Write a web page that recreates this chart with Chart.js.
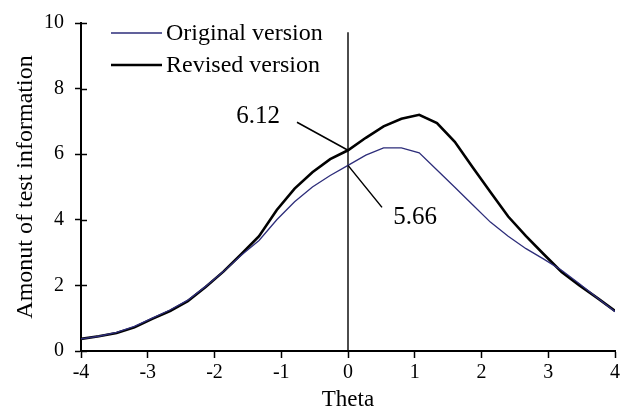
<!DOCTYPE html>
<html>
<head>
<meta charset="utf-8">
<title>Test information</title>
<script src="https://cdn.jsdelivr.net/npm/chart.js@4/dist/chart.umd.min.js"></script>
<style>
  body { margin: 0; background: #fff; }
  canvas { display: block; }
</style>
</head>
<body>
<canvas id="myChart" width="623" height="414"></canvas>
<script>
// Datos de la grafica
var thetas = [-4.000, -3.733, -3.467, -3.200, -2.933, -2.667, -2.400, -2.133, -1.867, -1.600, -1.333,
              -1.067, -0.800, -0.533, -0.267, 0.000, 0.267, 0.533, 0.800, 1.067, 1.333,
              1.600, 1.867, 2.133, 2.400, 2.667, 2.933, 3.200, 3.467, 3.733, 4.000];
var originalVals = [0.37, 0.45, 0.57, 0.75, 1.00, 1.25, 1.55, 1.97, 2.42, 2.92, 3.37,
                    4.00, 4.55, 5.00, 5.35, 5.66, 5.97, 6.19, 6.19, 6.04, 5.52,
                    4.99, 4.46, 3.93, 3.50, 3.12, 2.80, 2.46, 2.05, 1.62, 1.20];
var revisedVals = [0.37, 0.45, 0.55, 0.72, 0.98, 1.22, 1.52, 1.95, 2.42, 2.95, 3.50,
                   4.30, 4.95, 5.45, 5.85, 6.12, 6.50, 6.85, 7.08, 7.20, 6.95,
                   6.38, 5.60, 4.85, 4.10, 3.50, 2.95, 2.41, 2.00, 1.62, 1.22];
var seriesNames = ["Original version", "Revised version"];
var markerLine = [0, 9.72]; // linea vertical en theta = 0
var xTicks = [-4, -3, -2, -1, 0, 1, 2, 3, 4];
var yTicks = [0, 2, 4, 6, 8, 10];

var serif = "'Liberation Serif', 'DejaVu Serif', serif";
var navy = "#2d2d7a";

function toPoints(xs, ys) {
    return xs.map(function (x, i) { return { x: x, y: ys[i] }; });
}

// Marcas interiores del eje y (cruzan el eje)
var innerTicks = {
    id: "innerTicks",
    afterDraw: function (chart) {
        var ctx = chart.ctx, ys = chart.scales.y, left = chart.chartArea.left;
        ctx.save();
        ctx.strokeStyle = "#000";
        ctx.lineWidth = 1.5;
        yTicks.forEach(function (v) {
            var py = Math.round(ys.getPixelForValue(v)) + 0.5;
            ctx.beginPath();
            ctx.moveTo(left, py);
            ctx.lineTo(left + 6, py);
            ctx.stroke();
        });
        ctx.restore();
    }
};

// Leyenda dentro del area de la grafica
var innerLegend = {
    id: "innerLegend",
    afterDraw: function (chart) {
        var ctx = chart.ctx, a = chart.chartArea;
        ctx.save();
        ctx.font = "24px " + serif;
        ctx.textBaseline = "middle";
        ctx.fillStyle = "#000";
        [0, 1].forEach(function (i) {
            var ds = chart.data.datasets[i];
            var py = a.top + 10 + i * 32;
            ctx.strokeStyle = ds.borderColor;
            ctx.lineWidth = ds.borderWidth;
            ctx.beginPath();
            ctx.moveTo(a.left + 30, py);
            ctx.lineTo(a.left + 81, py);
            ctx.stroke();
            ctx.fillText(seriesNames[i], a.left + 85, py + 1);
        });
        ctx.restore();
    }
};

// Etiquetas de los valores en theta = 0
var callouts = {
    id: "callouts",
    afterDatasetsDraw: function (chart) {
        var ctx = chart.ctx, xs = chart.scales.x, ys = chart.scales.y;
        var i0 = thetas.indexOf(0);
        var px = xs.getPixelForValue(0);
        var pr = ys.getPixelForValue(revisedVals[i0]);
        var po = ys.getPixelForValue(originalVals[i0]);
        ctx.save();
        ctx.strokeStyle = "#000";
        ctx.lineWidth = 1.5;
        ctx.beginPath();
        ctx.moveTo(px, pr);
        ctx.lineTo(px - 51, pr - 28);
        ctx.moveTo(px, po);
        ctx.lineTo(px + 34, po + 42);
        ctx.stroke();
        ctx.font = "25px " + serif;
        ctx.fillStyle = "#000";
        ctx.textAlign = "center";
        ctx.textBaseline = "middle";
        ctx.fillText(revisedVals[i0].toFixed(2), px - 90, pr - 34);
        ctx.fillText(originalVals[i0].toFixed(2), px + 67, po + 52);
        ctx.restore();
    }
};

var chartData = {
    datasets: [
        { label: seriesNames[0], data: toPoints(thetas, originalVals), borderColor: navy, borderWidth: 1.3 },
        { label: seriesNames[1], data: toPoints(thetas, revisedVals), borderColor: "#000", borderWidth: 2.6 },
        { label: "theta0", data: toPoints([0, 0], markerLine), borderColor: "#000", borderWidth: 1.4 }
    ]
};

var chartOptions = {
    responsive: false,
    animation: false,
    layout: { padding: { top: 23, right: 6, left: 0, bottom: 0 } },
    elements: { point: { radius: 0 }, line: { tension: 0, fill: false } },
    plugins: { legend: { display: false }, tooltip: { enabled: false } },
    scales: {
        x: {
            type: "linear", min: -4, max: 4,
            afterFit: function (s) { s.height = 63; },
            afterBuildTicks: function (s) { s.ticks = xTicks.map(function (v) { return { value: v }; }); },
            border: { color: "#000", width: 2 },
            grid: { drawOnChartArea: false, tickLength: 7, tickColor: "#000", tickWidth: 1.5 },
            ticks: { color: "#000", padding: 3, maxRotation: 0, font: { family: serif, size: 20 } },
            title: { display: true, text: "Theta", color: "#000", padding: 0, font: { family: serif, size: 23 } }
        },
        y: {
            min: 0, max: 10,
            afterFit: function (s) { s.width = 81; },
            afterBuildTicks: function (s) { s.ticks = yTicks.map(function (v) { return { value: v }; }); },
            border: { color: "#000", width: 2 },
            grid: { drawOnChartArea: false, tickLength: 6, tickColor: "#000", tickWidth: 1.5 },
            ticks: { color: "#000", padding: 11, font: { family: serif, size: 20 } },
            title: { display: true, text: "Amonut of test information", color: "#000", padding: 11, font: { family: serif, size: 24 } }
        }
    }
};

new Chart("myChart", {
    type: "line",
    data: chartData,
    options: chartOptions,
    plugins: [innerTicks, innerLegend, callouts]
});
</script>
</body>
</html>
